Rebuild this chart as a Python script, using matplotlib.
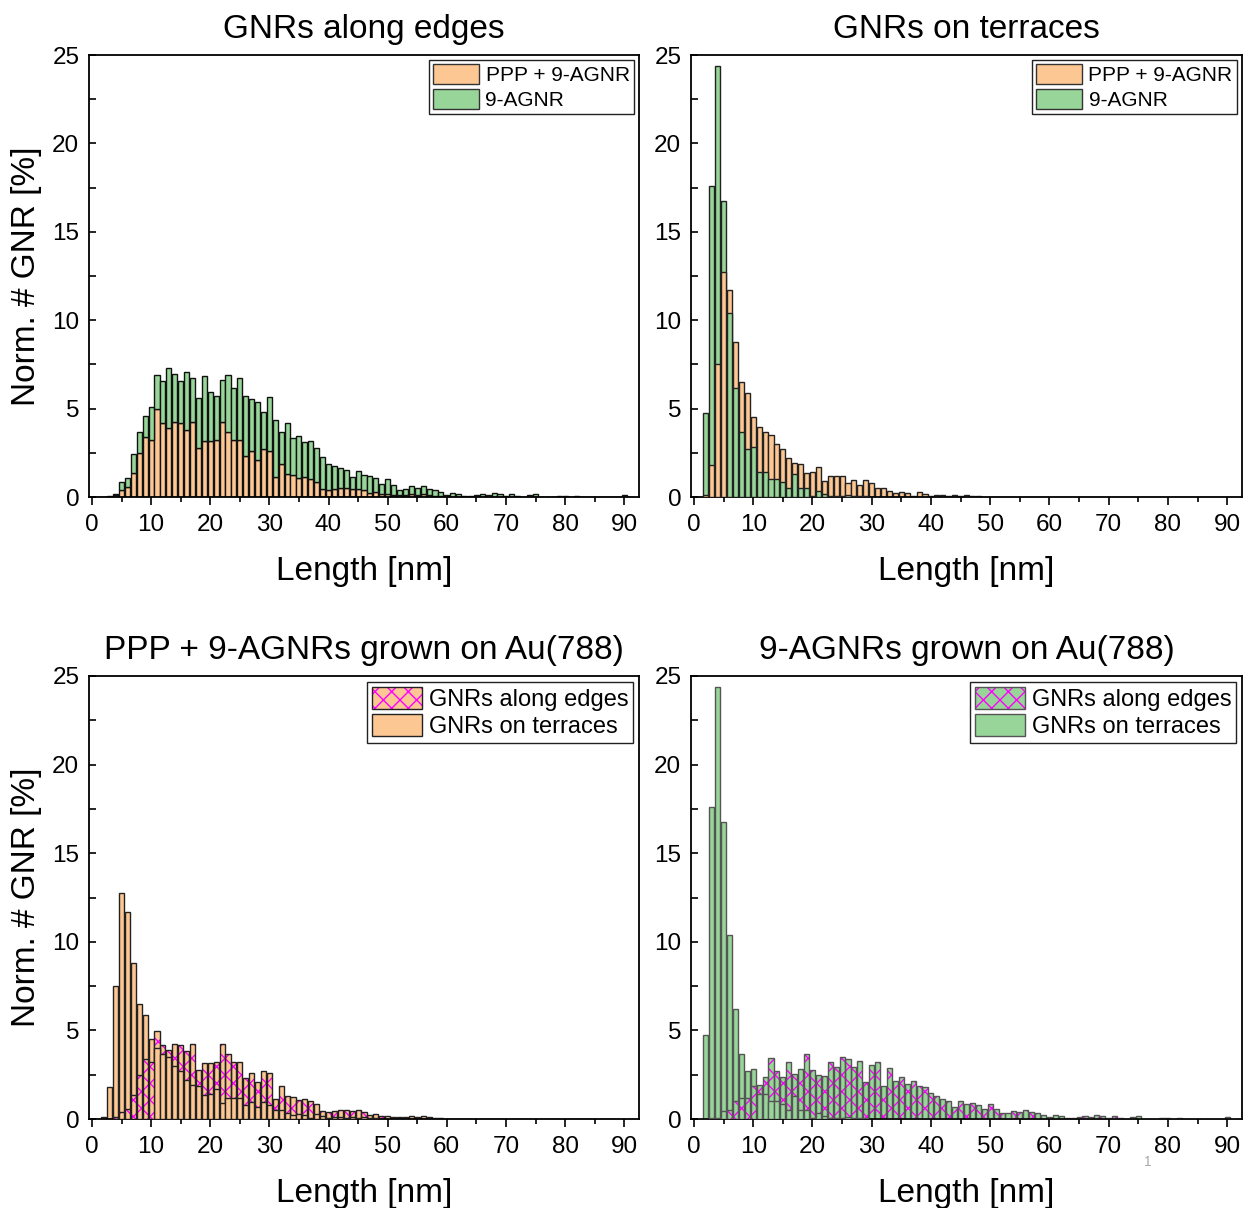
import matplotlib
matplotlib.use("Agg")
import matplotlib.pyplot as plt
from matplotlib.patches import Patch
import numpy as np

plt.rcParams['font.family'] = ['Liberation Sans', 'DejaVu Sans']
plt.rcParams['hatch.linewidth'] = 1.0

# bin centres (nm)
bins = list(range(1, 92))

# GNRs along edges, PPP + 9-AGNR sample (%)
edges_ppp = [0, 0, 0.02, 0.10, 0.42, 0.57, 1.37, 2.50, 3.37, 3.22,
             4.98, 4.17, 3.88, 4.24, 4.19, 3.81, 4.22, 2.77, 3.17, 3.17,
             3.20, 4.24, 3.68, 3.24, 3.22, 2.34, 2.62, 2.09, 2.71, 2.62,
             1.15, 1.85, 1.28, 1.24, 1.09, 1.15, 1.04, 0.87, 0.47, 0.40,
             0.45, 0.53, 0.49, 0.45, 0.48, 0.41, 0.25, 0.28, 0.17, 0.15,
             0.11, 0.09, 0.13, 0.15, 0.11, 0.15, 0.10, 0.06, 0.04, 0.02,
             0.02, 0.02, 0, 0, 0.02, 0.02, 0, 0.02, 0, 0,
             0, 0, 0, 0, 0, 0, 0, 0, 0, 0,
             0, 0, 0, 0, 0, 0, 0, 0, 0, 0, 0]

# GNRs along edges, 9-AGNR sample (%)
edges_agnr = [0, 0, 0.03, 0.05, 0.45, 0.50, 1.04, 1.18, 1.19, 1.87,
              1.90, 2.39, 3.44, 2.70, 2.39, 3.24, 2.53, 2.81, 3.67, 2.75,
              2.49, 2.40, 3.22, 2.93, 3.49, 3.40, 2.92, 3.30, 2.08, 3.05,
              3.20, 1.85, 2.89, 2.12, 2.38, 1.98, 2.15, 1.88, 1.81, 1.49,
              1.32, 1.13, 1.04, 0.66, 0.99, 0.82, 0.92, 0.79, 0.58, 0.87,
              0.55, 0.32, 0.32, 0.47, 0.40, 0.49, 0.37, 0.34, 0.24, 0.09,
              0.23, 0.17, 0.06, 0.06, 0.11, 0.17, 0.13, 0.23, 0.15, 0.04,
              0.15, 0.06, 0.02, 0.09, 0.19, 0, 0.02, 0, 0.06, 0.04,
              0, 0.06, 0, 0.02, 0, 0.02, 0.02, 0, 0, 0.09, 0.02]

# GNRs on terraces, PPP + 9-AGNR sample (%)
terr_ppp = [0, 0.10, 1.81, 7.52, 12.74, 11.68, 8.78, 6.50, 5.86, 4.50,
            3.98, 3.69, 3.50, 3.00, 2.69, 2.22, 1.94, 1.85, 1.38, 1.43,
            1.70, 0.90, 1.19, 1.17, 1.17, 0.77, 0.94, 0.66, 0.98, 0.77,
            0.53, 0.49, 0.34, 0.25, 0.26, 0.25, 0.04, 0.28, 0.17, 0.06,
            0.09, 0.09, 0.06, 0.09, 0.06, 0.09, 0.06, 0.04, 0.02, 0.02,
            0, 0, 0.02, 0.02, 0.02, 0.02, 0.02, 0, 0, 0,
            0, 0, 0, 0, 0, 0, 0, 0, 0, 0,
            0, 0, 0, 0, 0, 0, 0, 0, 0, 0,
            0, 0, 0, 0, 0, 0, 0, 0, 0, 0, 0]

# GNRs on terraces, 9-AGNR sample (%)
terr_agnr = [0, 4.73, 17.60, 24.40, 16.75, 10.38, 6.18, 3.69, 2.69, 2.84,
             1.42, 1.42, 1.00, 1.00, 0.87, 0.53, 1.32, 0.53, 0.53, 0.05,
             0.36, 0.19, 0.05, 0.05, 0.05, 0.13, 0.03, 0.03, 0.03, 0,
             0, 0, 0, 0, 0, 0, 0, 0, 0, 0,
             0, 0, 0, 0, 0, 0, 0, 0, 0, 0,
             0, 0, 0, 0, 0, 0, 0, 0, 0, 0,
             0, 0, 0, 0, 0, 0, 0, 0, 0, 0,
             0, 0, 0, 0, 0, 0, 0, 0, 0, 0,
             0, 0, 0, 0, 0, 0, 0, 0, 0, 0, 0]

titles = ["GNRs along edges", "GNRs on terraces",
          "PPP + 9-AGNRs grown on Au(788)", "9-AGNRs grown on Au(788)"]

ORANGE = '#FDC794'
GREEN = '#98D598'
MAGENTA = '#FF00FF'
W = 0.86

fig = plt.figure(figsize=(12.44, 12.08), dpi=100)
W_PX, H_PX = 1244, 1208

def add_ax(l, r, t, b):
    return fig.add_axes([l / W_PX, 1 - b / H_PX, (r - l) / W_PX, (b - t) / H_PX])

ax_tl = add_ax(89, 639, 55, 497)
ax_tr = add_ax(691, 1242, 55, 497)
ax_bl = add_ax(89, 639, 676, 1119)
ax_br = add_ax(691, 1242, 676, 1119)


def style(ax, title, ylabel):
    ax.set_xlim(-0.5, 92.5)
    ax.set_ylim(0, 25)
    ax.set_xticks(range(0, 91, 10))
    ax.set_xticks(range(5, 91, 10), minor=True)
    ax.set_yticks(range(0, 26, 5))
    ax.set_yticks(np.arange(2.5, 25, 5), minor=True)
    ax.tick_params(axis='x', which='major', direction='out', length=6, width=1.2,
                   labelsize=17.5, pad=6.5)
    ax.tick_params(axis='x', which='minor', direction='out', length=3.5, width=1.2)
    ax.tick_params(axis='y', which='major', direction='in', length=5, width=1.2,
                   labelsize=17.5, pad=7)
    ax.tick_params(axis='y', which='minor', direction='in', length=5, width=1.2)
    for s in ax.spines.values():
        s.set_linewidth(1.3)
    ax.set_xlabel("Length [nm]", fontsize=24, labelpad=14)
    if ylabel:
        ax.set_ylabel("Norm. # GNR [%]", fontsize=24, labelpad=7)
    ax.set_title(title, fontsize=24, pad=12)


def overlay(ax, a, b, ca, cb, ec, hatch_b=False):
    """overlaid bars; the shorter of each pair drawn in front"""
    ba = ax.bar(bins, a, width=W, color=ca, edgecolor=ec, linewidth=1.0)
    if hatch_b:
        bb = ax.bar(bins, b, width=W, color=cb, edgecolor=MAGENTA, linewidth=0, hatch='xx')
        bo = ax.bar(bins, b, width=W, color='none', edgecolor=ec, linewidth=1.0)
    else:
        bb = ax.bar(bins, b, width=W, color=cb, edgecolor=ec, linewidth=1.0)
        bo = None
    for i in range(len(bins)):
        if a[i] >= b[i]:
            za, zb = 2, 3
        else:
            za, zb = 3, 2
        ba.patches[i].set_zorder(za)
        bb.patches[i].set_zorder(zb)
        if bo is not None:
            bo.patches[i].set_zorder(zb + 0.01)


# top-left: edges, 9-AGNR stacked on PPP + 9-AGNR
ax_tl.bar(bins, edges_ppp, width=W, color=ORANGE, edgecolor='#111111', linewidth=1.0, zorder=2)
ax_tl.bar(bins, edges_agnr, bottom=edges_ppp, width=W, color=GREEN, edgecolor='#111111',
          linewidth=1.0, zorder=2)
style(ax_tl, titles[0], True)

# top-right: terraces overlaid
overlay(ax_tr, terr_ppp, terr_agnr, ORANGE, GREEN, '#222222')
style(ax_tr, titles[1], False)

# bottom-left: PPP sample, terraces vs edges (hatched)
overlay(ax_bl, terr_ppp, edges_ppp, ORANGE, ORANGE, '#222222', hatch_b=True)
style(ax_bl, titles[2], True)

# bottom-right: 9-AGNR sample, terraces vs edges (hatched)
overlay(ax_br, terr_agnr, edges_agnr, GREEN, GREEN, '#555555', hatch_b=True)
style(ax_br, titles[3], False)

# legends
top_handles = [Patch(facecolor=ORANGE, edgecolor='#333333', label='PPP + 9-AGNR'),
               Patch(facecolor=GREEN, edgecolor='#333333', label='9-AGNR')]
for ax in (ax_tl, ax_tr):
    leg = ax.legend(handles=top_handles, loc='upper right', fontsize=15,
                    handlelength=2.2, handleheight=1.1, labelspacing=0.15,
                    handletextpad=0.3, borderpad=0.2, borderaxespad=0.25,
                    fancybox=False, framealpha=1, edgecolor='#222222')
    leg.get_frame().set_linewidth(1.0)

for ax, col, ec in ((ax_bl, ORANGE, '#222222'), (ax_br, GREEN, '#555555')):
    hp = Patch(facecolor=col, edgecolor=MAGENTA, hatch='xx', linewidth=0)
    ho = Patch(facecolor='none', edgecolor=ec, linewidth=1.0)
    hs = Patch(facecolor=col, edgecolor=ec, linewidth=1.0)
    leg = ax.legend(handles=[(hp, ho), hs], labels=['GNRs along edges', 'GNRs on terraces'],
                    loc='upper right', fontsize=17,
                    handlelength=2.1, handleheight=1.05, labelspacing=0.15,
                    handletextpad=0.3, borderpad=0.2, borderaxespad=0.25,
                    fancybox=False, framealpha=1, edgecolor='#222222')
    leg.get_frame().set_linewidth(1.0)

fig.text(1148 / W_PX, 1 - 1162 / H_PX, "1", fontsize=10, color='#AAAAAA',
         ha='center', va='center')

fig.savefig("out.png", dpi=100)
